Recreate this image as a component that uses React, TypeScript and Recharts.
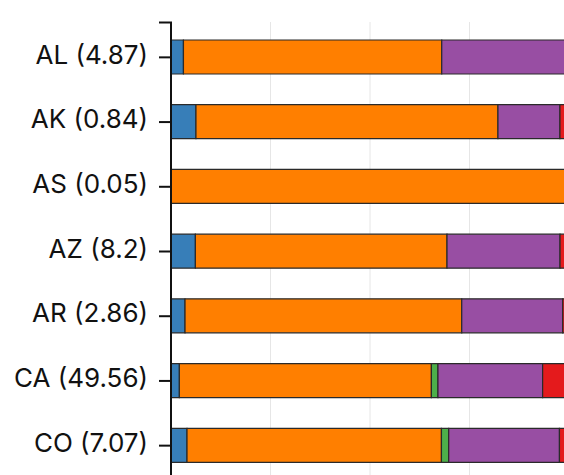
import { BarChart, Bar, XAxis, YAxis, CartesianGrid, Customized } from "recharts";

// state codes and the total shown next to each one
const states = ["AL", "AK", "AS", "AZ", "AR", "CA", "CO"];
const totals = ["4.87", "0.84", "0.05", "8.2", "2.86", "49.56", "7.07"];

// share of each group per state (percent)
const blue   = [1.25, 2.51, 0, 2.45, 1.41, 0.84, 1.61];
const orange = [25.96, 30.35, 100, 25.29, 27.81, 25.33, 25.57];
const green  = [0, 0, 0, 0, 0, 0.66, 0.73];
const purple = [30.0, 6.23, 0, 11.36, 10.15, 10.52, 11.13];
const red    = [42.79, 60.91, 0, 60.9, 60.63, 62.65, 60.96];

const xTicks = [0, 10, 20, 30, 40, 50, 60, 70, 80, 90, 100];

const data = states.map((s, i) => ({
  label: `${s} (${totals[i]})`,
  blue: blue[i],
  orange: orange[i],
  green: green[i],
  purple: purple[i],
  red: red[i],
}));

const SERIES: [string, string][] = [
  ["blue", "#377eb8"],
  ["orange", "#ff7f00"],
  ["green", "#4daf4a"],
  ["purple", "#984ea3"],
  ["red", "#e41a1c"],
];

const AXIS_W = 171;
const TOP = 22;
const TICK = 12;

// d3-style outer tick at the top of the y axis
const TopTick = () => (
  <line x1={AXIS_W - TICK} x2={AXIS_W + 1} y1={TOP + 0.5} y2={TOP + 0.5} stroke="#111" strokeWidth={2} />
);

export default function App() {
  return (
    <div style={{ position: "fixed", left: 0, top: 0, width: 564, height: 475, overflow: "hidden", background: "#fff" }}>
      <BarChart
        width={1180}
        height={518}
        data={data}
        layout="vertical"
        margin={{ top: TOP, right: 14, bottom: 0, left: 0 }}
      >
        <CartesianGrid horizontal={false} stroke="#e6e6e6" strokeWidth={1} />
        <XAxis type="number" domain={[0, 100]} ticks={xTicks} hide />
        <YAxis
          type="category"
          dataKey="label"
          width={AXIS_W}
          padding={{ top: 3, bottom: 40 }}
          axisLine={{ stroke: "#111", strokeWidth: 2 }}
          tickLine={{ stroke: "#111", strokeWidth: 2 }}
          tickSize={TICK}
          tickMargin={11}
          tick={{ fill: "#111", fontSize: 26, fontFamily: "Inter, sans-serif", dy: -3 }}
          interval={0}
        />
        {SERIES.map(([key, color]) => (
          <Bar
            key={key}
            dataKey={key}
            stackId="a"
            fill={color}
            stroke="#2a2a2a"
            strokeWidth={1.2}
            barSize={34}
            isAnimationActive={false}
          />
        ))}
        <Customized component={TopTick} />
      </BarChart>
    </div>
  );
}
